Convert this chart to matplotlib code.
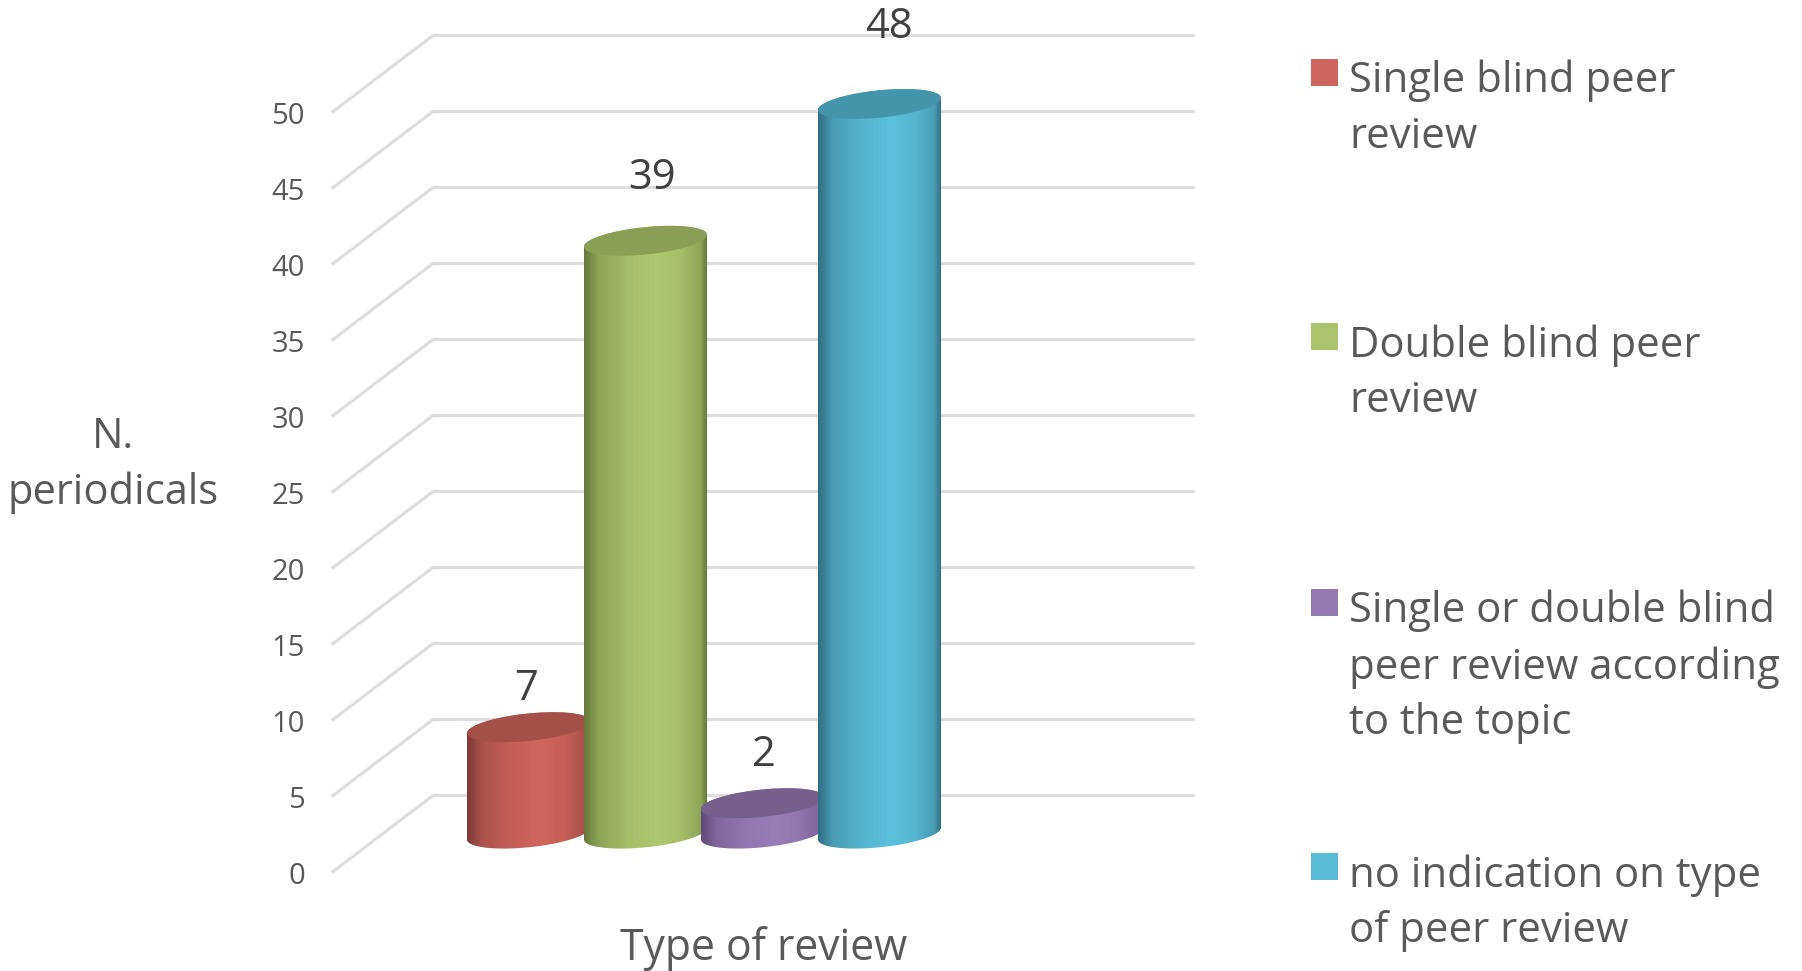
import numpy as np
import matplotlib
matplotlib.use("Agg")
import matplotlib.pyplot as plt
from matplotlib.colors import to_rgb
from matplotlib.patches import Polygon

plt.rcParams['font.family'] = ['Open Sans', 'DejaVu Sans']

# Data
categories = ["Single blind peer\nreview", "Double blind peer\nreview",
              "Single or double blind\npeer review according\nto the topic",
              "no indication on type\nof peer review"]
values = [7, 39, 2, 48]
ticks = [0, 5, 10, 15, 20, 25, 30, 35, 40, 45, 50]

# Colours: side edge, side highlight, cap
edge_colors = ["#7f3a36", "#66783a", "#5f4a78", "#2f6f84"]
main_colors = ["#d0655e", "#afc96f", "#9a7db8", "#5cc0dc"]
cap_colors = ["#a44f48", "#8a9f55", "#75608c", "#4395ab"]
swatch_colors = ["#cd645e", "#abc46b", "#9478b0", "#5abbd6"]

W, H = 1802, 971
PX_X = 117.0   # pixels per category
PX_Y = 15.2    # pixels per unit of value
X0, Y0 = 528.5, 833.6   # pixel position of first cylinder's base

fig = plt.figure(figsize=(W / 100, H / 100), dpi=100)
ax = fig.add_axes([0, 0, 1, 1])
ax.set_xlim(-X0 / PX_X, (W - X0) / PX_X)
ax.set_ylim((Y0 - H) / PX_Y, Y0 / PX_Y)
ax.axis("off")


def fx(px):
    return (px - X0) / PX_X


# 3D walls: front tick -> back wall -> right end
front_x, back_x, right_x = fx(333), fx(433), fx(1193)
front_dy, back_dy = (Y0 - 871.5) / PX_Y, (Y0 - 795.5) / PX_Y
label_dy = (Y0 - 876.5) / PX_Y
for t in ticks:
    ax.plot([front_x, back_x, right_x], [t + front_dy, t + back_dy, t + back_dy],
            color="#dedede", lw=2.3, solid_joinstyle="miter", zorder=1)
    ax.text(fx(305), t + label_dy, str(t), ha="right", va="center",
            fontsize=21, color="#595959")

# Cylinders
a = 61.5 / PX_X
b = 13.7 / PX_Y
s = 6.0 / PX_Y
stops = [0, 0.12, 0.35, 0.6, 0.8, 0.95, 1]
shade = [0, 0.55, 0.85, 1, 0.85, 0.55, 0]
value_dx = [-2, 7, 1, 9]
value_dy = [2.5, 4.1, 3.15, 5.05]
for i, v in enumerate(values):
    lower = np.linspace(np.pi, 2 * np.pi, 80)
    upper = np.linspace(0, np.pi, 80)
    xs = np.r_[i + a * np.cos(lower), i + a * np.cos(upper)]
    ys = np.r_[s * np.cos(lower) + b * np.sin(lower), v + s * np.cos(upper) + b * np.sin(upper)]
    body = Polygon(np.c_[xs, ys], closed=True, fc="none", ec="none", zorder=2 + i)
    ax.add_patch(body)
    # shade across the cylinder
    e_rgb = np.array(to_rgb(edge_colors[i]))
    m_rgb = np.array(to_rgb(main_colors[i]))
    mix = np.interp(np.linspace(0, 1, 256), stops, shade)
    grad = (e_rgb[None, :] * (1 - mix[:, None]) + m_rgb[None, :] * mix[:, None])[None, :, :]
    im = ax.imshow(grad, extent=[i - a, i + a, -b - s, v + b + s], aspect="auto",
                   zorder=2 + i, interpolation="bilinear")
    im.set_clip_path(body)
    t = np.linspace(0, 2 * np.pi, 160)
    ax.fill(i + a * np.cos(t), v + s * np.cos(t) + b * np.sin(t),
            color=cap_colors[i], lw=0, zorder=2 + i)
    ax.text(i + value_dx[i] / PX_X, v + value_dy[i], str(v), ha="center", va="center",
            fontsize=30, color="#404040", zorder=10)

ax.set_xlim(-X0 / PX_X, (W - X0) / PX_X)
ax.set_ylim((Y0 - H) / PX_Y, Y0 / PX_Y)


def px_text(x, y, txt, **kw):
    fig.text(x / W, 1 - y / H, txt, color="#595959", **kw)


# Axis titles
px_text(113, 465, "N.\nperiodicals", ha="center", va="center", fontsize=30, linespacing=1.42)
px_text(764, 949, "Type of review", ha="center", va="center", fontsize=30.7)

# Legend
swatch_top = [59, 323, 589, 853]
for c, col, top in zip(categories, swatch_colors, swatch_top):
    fig.patches.append(plt.Rectangle((1311 / W, 1 - (top + 27) / H), 27 / W, 27 / H,
                                     transform=fig.transFigure, fc=col, ec="none"))
    px_text(1349, top + 1, c, ha="left", va="top", fontsize=30.2, linespacing=1.42)

fig.savefig("out.png", dpi=100)
